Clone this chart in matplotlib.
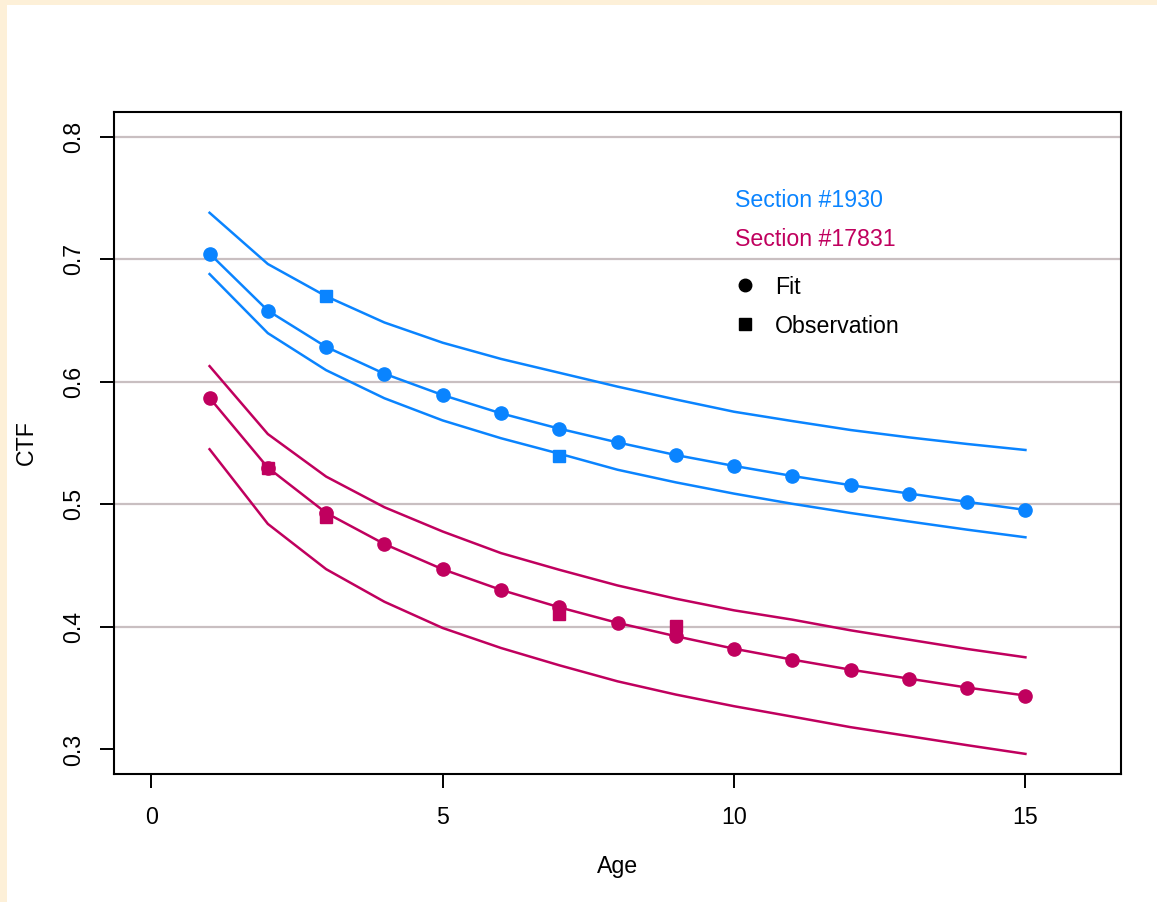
import matplotlib
matplotlib.use("Agg")
import matplotlib.pyplot as plt
from matplotlib.lines import Line2D
from matplotlib.patches import Rectangle

plt.rcParams['font.family'] = ['Liberation Sans', 'DejaVu Sans']

# data
age = list(range(1, 16))

blue_fit = [0.7045, 0.6580, 0.6284, 0.6065, 0.5891, 0.5742, 0.5617, 0.5505,
            0.5402, 0.5313, 0.5231, 0.5156, 0.5088, 0.5020, 0.4954]
blue_upper = [0.7378, 0.6960, 0.6697, 0.6483, 0.6318, 0.6186, 0.6073, 0.5960,
              0.5855, 0.5755, 0.5679, 0.5606, 0.5546, 0.5492, 0.5443]
blue_lower = [0.6878, 0.6396, 0.6094, 0.5865, 0.5684, 0.5539, 0.5413, 0.5282,
              0.5179, 0.5087, 0.5004, 0.4929, 0.4860, 0.4793, 0.4731]
blue_obs_age = [3, 7]
blue_obs = [0.6697, 0.5398]

mag_fit = [0.5868, 0.5299, 0.4930, 0.4676, 0.4470, 0.4302, 0.4160, 0.4033,
           0.3924, 0.3822, 0.3733, 0.3651, 0.3578, 0.3505, 0.3440]
mag_upper = [0.6127, 0.5573, 0.5226, 0.4976, 0.4778, 0.4602, 0.4466, 0.4338,
             0.4230, 0.4135, 0.4059, 0.3972, 0.3896, 0.3820, 0.3752]
mag_lower = [0.5449, 0.4840, 0.4471, 0.4205, 0.3991, 0.3828, 0.3687, 0.3556,
             0.3448, 0.3353, 0.3268, 0.3182, 0.3109, 0.3035, 0.2964]
mag_obs_age = [2, 3, 7, 9]
mag_obs = [0.5299, 0.4895, 0.4107, 0.4010]

xticks = [0, 5, 10, 15]
yticks = [0.3, 0.4, 0.5, 0.6, 0.7, 0.8]
grid_y = [0.4, 0.5, 0.6, 0.7, 0.8]

blue = '#0A84FF'
mag = '#C0005E'
fs = 16.7

fig = plt.figure(figsize=(11.57, 9.02), dpi=100)
fig.patch.set_facecolor('#FDF0D8')
# white page area (cream strip along top and left)
fig.add_artist(Rectangle((7 / 1157, 0), 1, 1 - 5 / 902, transform=fig.transFigure,
                         facecolor='white', edgecolor='none', zorder=0))

ax = fig.add_axes([114 / 1157, 1 - 774 / 902, 1007 / 1157, 662 / 902])
ax.set_facecolor('white')
ax.set_xlim(-0.64, 16.64)
ax.set_ylim(0.28, 0.82)

for g in grid_y:
    ax.axhline(g, color='#C9BFC1', lw=1.6, zorder=1)

for y, c in [(blue_upper, blue), (blue_lower, blue), (mag_upper, mag), (mag_lower, mag)]:
    ax.plot(age, y, color=c, lw=1.8, zorder=2)

ax.plot(age, blue_fit, color=blue, lw=1.8, marker='o', ms=9.5, zorder=3)
ax.plot(age, mag_fit, color=mag, lw=1.8, marker='o', ms=9.5, zorder=3)
ax.plot(blue_obs_age, blue_obs, ls='none', marker='s', ms=9, color=blue, zorder=4)
ax.plot(mag_obs_age, mag_obs, ls='none', marker='s', ms=9, color=mag, zorder=4)

ax.set_xticks(xticks)
ax.set_xticklabels([str(x) for x in xticks])
ax.set_yticks(yticks)
ax.set_yticklabels([f"{y:.1f}" for y in yticks], rotation=90, va='center')
ax.tick_params(axis='both', direction='out', length=10, width=1.4, labelsize=fs)
ax.tick_params(axis='x', pad=13)
ax.tick_params(axis='y', pad=11)
for s in ax.spines.values():
    s.set_linewidth(1.5)

ax.set_xlabel('Age', fontsize=fs)
ax.set_ylabel('CTF', fontsize=fs)
ax.xaxis.set_label_coords(0.5, -0.122)
ax.yaxis.set_label_coords(-0.076, 0.5)

ax.text(0.6167, 0.867, 'Section #1930', color=blue, fontsize=fs,
        transform=ax.transAxes, va='center', ha='left')
ax.text(0.6167, 0.808, 'Section #17831', color=mag, fontsize=fs,
        transform=ax.transAxes, va='center', ha='left')

handles = [Line2D([], [], ls='none', marker='o', color='black', ms=9),
           Line2D([], [], ls='none', marker='s', color='black', ms=8.5)]
ax.legend(handles, ['Fit', 'Observation'], loc='upper left',
          bbox_to_anchor=(0.615, 0.753), frameon=False, fontsize=fs,
          borderpad=0, borderaxespad=0, handlelength=1.0,
          handletextpad=0.79, labelspacing=0.69)

fig.savefig('out.png', dpi=100)
